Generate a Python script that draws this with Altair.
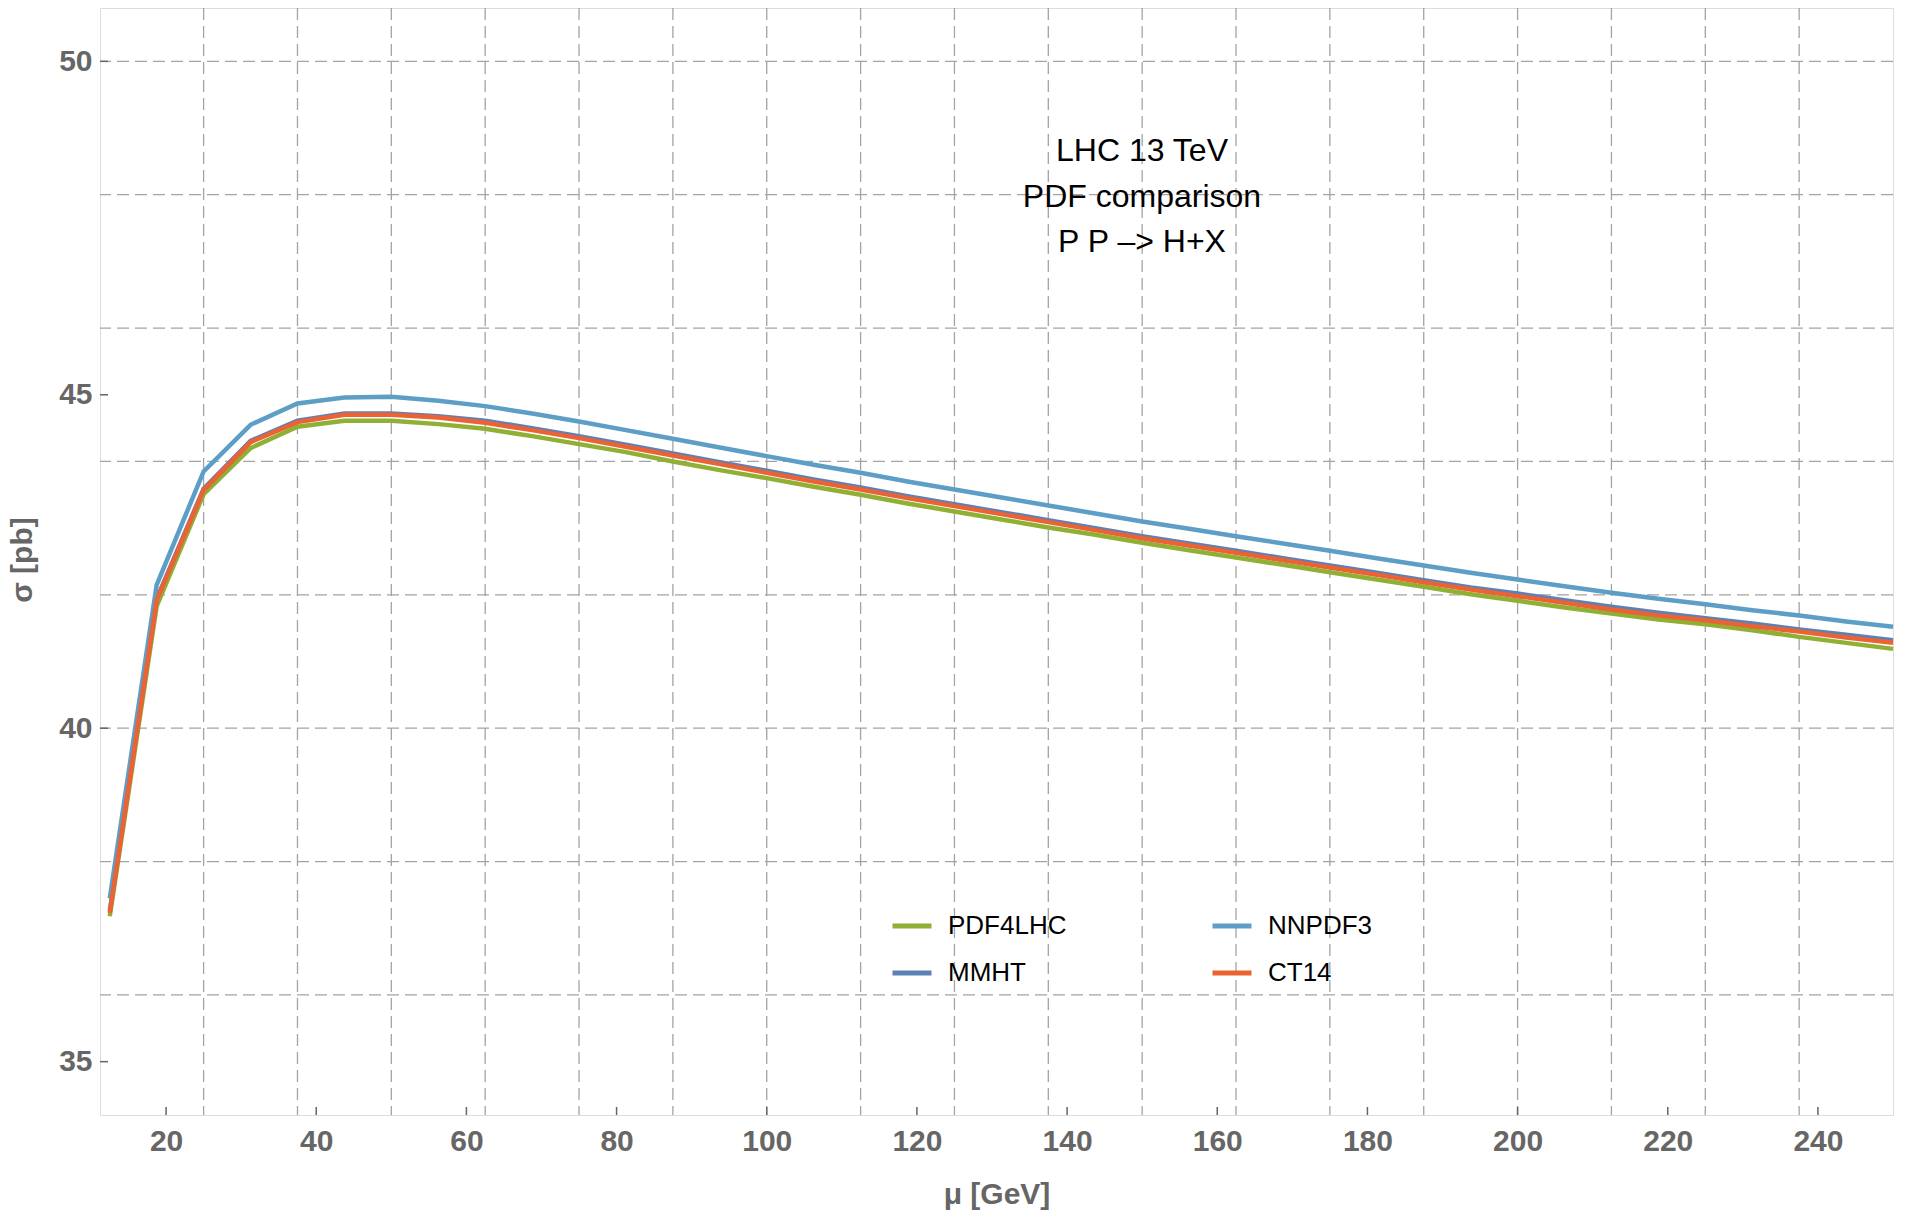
import altair as alt
import pandas as pd

mu = [12.5, 18.75, 25, 31.25, 37.5, 43.75, 50, 56.25, 62.5, 68.75, 75, 81.25, 87.5,
      93.75, 100, 106.25, 112.5, 118.75, 125, 131.25, 137.5, 143.75, 150, 156.25,
      162.5, 168.75, 175, 181.25, 187.5, 193.75, 200, 206.25, 212.5, 218.75, 225,
      231.25, 237.5, 243.75, 250]

nnpdf3 = [37.45, 42.15, 43.85, 44.55, 44.87, 44.96, 44.97, 44.91, 44.83, 44.72, 44.60,
          44.47, 44.34, 44.21, 44.08, 43.95, 43.83, 43.70, 43.58, 43.46, 43.34, 43.22,
          43.10, 42.99, 42.88, 42.77, 42.66, 42.55, 42.44, 42.33, 42.23, 42.13, 42.03,
          41.94, 41.86, 41.77, 41.69, 41.60, 41.52]

ct14 = [37.23, 41.92, 43.57, 44.29, 44.59, 44.70, 44.70, 44.66, 44.58, 44.47, 44.35,
        44.22, 44.09, 43.96, 43.83, 43.70, 43.58, 43.45, 43.33, 43.21, 43.09, 42.97,
        42.85, 42.74, 42.63, 42.52, 42.41, 42.30, 42.19, 42.08, 41.98, 41.88, 41.78,
        41.69, 41.62, 41.53, 41.45, 41.36, 41.28]

mmht = [37.26, 41.94, 43.59, 44.31, 44.61, 44.72, 44.72, 44.68, 44.61, 44.50, 44.38,
        44.25, 44.12, 43.99, 43.86, 43.73, 43.61, 43.48, 43.36, 43.24, 43.12, 43.00,
        42.88, 42.77, 42.66, 42.55, 42.44, 42.33, 42.22, 42.11, 42.02, 41.92, 41.82,
        41.73, 41.65, 41.57, 41.48, 41.40, 41.32]

pdf4lhc = [37.18, 41.83, 43.51, 44.20, 44.52, 44.61, 44.61, 44.56, 44.49, 44.38, 44.26,
           44.14, 44.00, 43.87, 43.75, 43.62, 43.50, 43.37, 43.25, 43.13, 43.01, 42.90,
           42.78, 42.67, 42.56, 42.45, 42.34, 42.23, 42.12, 42.01, 41.91, 41.81, 41.72,
           41.63, 41.56, 41.47, 41.37, 41.28, 41.19]

legend_order = ["PDF4LHC", "MMHT", "NNPDF3", "CT14"]
legend_colors = ["#8fb032", "#5e81b5", "#5d9ec7", "#eb6235"]
draw_order = ["PDF4LHC", "MMHT", "NNPDF3", "CT14"]
series = {"PDF4LHC": pdf4lhc, "MMHT": mmht, "NNPDF3": nnpdf3, "CT14": ct14}

x_ticks = [20, 40, 60, 80, 100, 120, 140, 160, 180, 200, 220, 240]
y_ticks = [35, 40, 45, 50]
x_grid = [25, 37.5, 50, 62.5, 75, 87.5, 100, 112.5, 125, 137.5, 150, 162.5, 175,
          187.5, 200, 212.5, 225, 237.5]
y_grid = [36, 38, 40, 42, 44, 46, 48, 50]
x_domain = [11.2, 250]
y_domain = [34.2, 50.8]

note_lines = ["LHC 13 TeV", "PDF comparison", "P P –> H+X"]

rows = []
for name in draw_order:
    for m, v in zip(mu, series[name]):
        rows.append({"mu": m, "sigma": v, "pdf": name})
df = pd.DataFrame(rows)

W, H = 1793, 1107
FONT = "Liberation Sans"
GRID = "#a3a3a3"
xscale = alt.Scale(domain=x_domain, nice=False, zero=False)
yscale = alt.Scale(domain=y_domain, nice=False, zero=False)

x_axis = alt.Axis(values=x_ticks, title="μ [GeV]", grid=False, ticks=False, domain=False,
                  labelFont=FONT, labelFontWeight="bold", labelFontSize=30,
                  labelColor="#666666", labelPadding=11, format="d",
                  titleFont=FONT, titleFontSize=30, titleFontWeight="bold",
                  titleColor="#666666", titleX=W / 2, titleY=79,
                  titleBaseline="middle", titleAlign="center")
y_axis = alt.Axis(values=y_ticks, title="σ [pb]", grid=False, ticks=False, domain=False,
                  labelFont=FONT, labelFontWeight="bold", labelFontSize=30,
                  labelColor="#666666", labelPadding=8, format="d",
                  titleFont=FONT, titleFontSize=30, titleFontWeight="bold",
                  titleColor="#666666", titleX=-78, titleY=H / 2 - 2, titleAngle=270,
                  titleBaseline="middle", titleAlign="center")

vgrid = alt.Chart(pd.DataFrame({"gx": x_grid})).mark_rule(
    color=GRID, strokeWidth=1.3, strokeDash=[12, 6]
).encode(x=alt.X("gx:Q", scale=xscale, axis=x_axis))

hgrid = alt.Chart(pd.DataFrame({"gy": y_grid})).mark_rule(
    color=GRID, strokeWidth=1.3, strokeDash=[12, 6]
).encode(y=alt.Y("gy:Q", scale=yscale, axis=y_axis))

legend = alt.Legend(title=None, orient="none", legendX=790, legendY=896, columns=2,
                    columnPadding=135, rowPadding=12, symbolType="stroke",
                    symbolSize=1521, symbolStrokeWidth=5, labelFontSize=26,
                    labelFont=FONT, labelColor="black", labelOffset=14)

lines = []
for name in draw_order:
    lines.append(
        alt.Chart(df).transform_filter(alt.datum.pdf == name).mark_line(
            strokeWidth=4.5
        ).encode(
            x=alt.X("mu:Q", scale=xscale, axis=x_axis),
            y=alt.Y("sigma:Q", scale=yscale, axis=y_axis),
            color=alt.Color("pdf:N", scale=alt.Scale(domain=legend_order, range=legend_colors),
                            legend=legend),
        )
    )

xt = alt.Chart(pd.DataFrame({"tx": x_ticks})).mark_rule(color="#666666", strokeWidth=1.5).encode(
    x=alt.X("tx:Q", scale=xscale, axis=x_axis), y=alt.value(H - 8), y2=alt.value(H)
)
yt = alt.Chart(pd.DataFrame({"ty": y_ticks})).mark_rule(color="#666666", strokeWidth=1.5).encode(
    y=alt.Y("ty:Q", scale=yscale, axis=y_axis), x=alt.value(0), x2=alt.value(8)
)

note = alt.Chart(pd.DataFrame({"t": ["\n".join(note_lines)]})).mark_text(
    font=FONT, fontSize=32, color="black", align="center", baseline="middle",
    lineBreak="\n", lineHeight=45.5
).encode(x=alt.value(1042), y=alt.value(143), text="t:N")

chart = alt.layer(vgrid, hgrid, *lines, xt, yt, note).properties(
    width=W, height=H,
    autosize=alt.AutoSizeParams(type="none"),
    padding={"left": 100, "top": 8, "right": 12, "bottom": 97},
).configure_view(stroke="#8f8f8f", strokeWidth=1.5).configure(background="white")

chart.save("out.html", embed_options={"renderer": "svg", "actions": False})
